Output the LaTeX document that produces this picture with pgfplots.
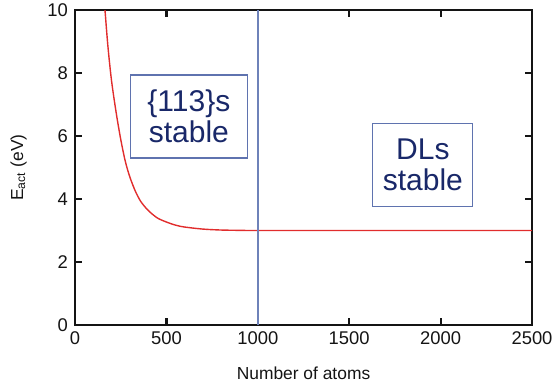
\documentclass[border=0pt]{standalone}
\usepackage{pgfplots}
\pgfplotsset{compat=1.18}
\usepackage{fontspec}
\setmainfont{Liberation Sans}
\definecolor{axgray}{RGB}{20,20,20}
\definecolor{curvered}{RGB}{225,45,45}
\definecolor{vline}{RGB}{110,130,185}
\definecolor{boxedge}{RGB}{95,115,175}
\definecolor{boxtext}{RGB}{25,40,105}
\begin{document}
\begin{tikzpicture}
\begin{axis}[
  scale only axis,
  width=228.5pt, height=157.5pt,
  xmin=0, xmax=2500, ymin=0, ymax=10,
  xtick={0,500,1000,1500,2000,2500},
  ytick={0,2,4,6,8,10},
  tick align=inside,
  major tick length=3.5pt,
  axis line style={axgray, line width=1.1pt},
  every tick/.style={axgray, line width=1.1pt},
  tick label style={font=\fontsize{9.2}{10}\selectfont, text=axgray},
  /pgf/number format/assume math mode=true,
  /pgf/number format/1000 sep={},
  xlabel={Number of atoms},
  ylabel={E\textsubscript{act} (eV)},
  label style={font=\fontsize{8.7}{10}\selectfont, text=axgray},
  xlabel style={yshift=-4pt},
  ylabel style={yshift=3.5pt},
  clip=true,
]
\addplot[curvered, line width=0.7pt, smooth] coordinates {
 (155,10.6) (164,10) (180,8.85) (200,7.75) (225,6.75) (250,5.9) (275,5.2) (300,4.7) (330,4.25)
 (360,3.92) (400,3.64) (450,3.40) (500,3.27) (550,3.17) (600,3.11) (700,3.045) (800,3.015) (900,3.005)
 (1000,3.0) (1500,3.0) (2000,3.0) (2500,3.0)
};
\addplot[vline, line width=0.7pt] coordinates {(1000,0) (1000,10)};
\node[draw=boxedge, line width=0.6pt, fill=white, minimum width=58.5pt, minimum height=41.5pt,
  align=center, text=boxtext, font=\fontsize{15}{15.5}\selectfont, inner sep=0pt]
  at (axis cs:623,6.62) {\{113\}s\\stable};
\node[draw=boxedge, line width=0.6pt, fill=white, minimum width=50pt, minimum height=41.5pt,
  align=center, text=boxtext, font=\fontsize{15}{15.5}\selectfont, inner sep=0pt]
  at (axis cs:1903,5.07) {DLs\\stable};
\end{axis}
\pgfresetboundingbox
\path ([shift={(-37.5pt,-31pt)}]current axis.south west) rectangle ([shift={(11pt,5pt)}]current axis.north east);
\end{tikzpicture}
\end{document}
